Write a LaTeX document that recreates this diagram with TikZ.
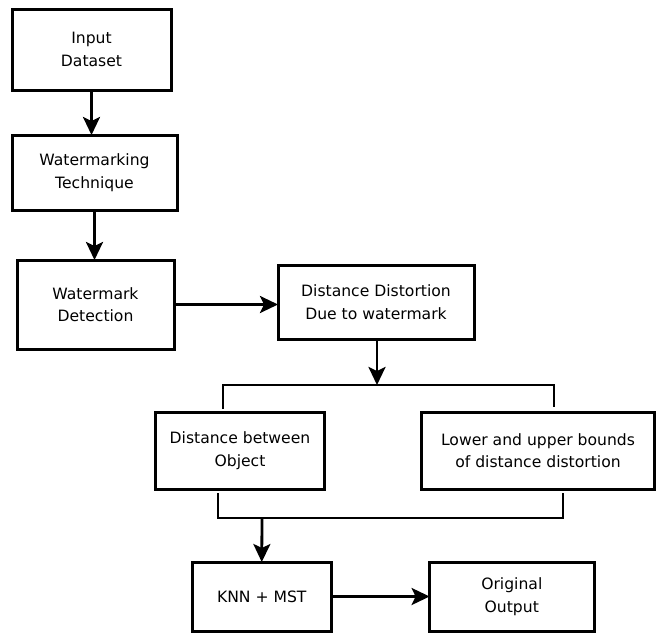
\documentclass[tikz,border=0pt]{standalone}
\usepackage{fontspec}
\setmainfont{DejaVu Sans}
\usetikzlibrary{arrows.meta}
\tikzset{
  flowbox/.style={draw=black, line width=3pt, inner sep=0pt, outer sep=0pt,
    align=center, font=\fontsize{15.6}{22.5}\selectfont, text=black},
  conn/.style={line width=2.8pt, draw=black},
  arr/.style={conn, -{Stealth[length=18pt,width=17pt,inset=4pt]}},
}
\begin{document}
\begin{tikzpicture}[x=1pt,y=-1pt]
\useasboundingbox (0,0) rectangle (657,633);
\fill[white] (0,0) rectangle (657,633);

\node[flowbox, minimum width=159pt, minimum height=81pt] (b1) at (91.5,49.5) {Input\\Dataset};
\node[flowbox, minimum width=165pt, minimum height=75pt] (b2) at (94.5,172.5) {Watermarking\\Technique};
\node[flowbox, minimum width=157pt, minimum height=89pt] (b3) at (95.5,304.5) {Watermark\\Detection};
\node[flowbox, minimum width=196pt, minimum height=74pt] (b4) at (376,302) {Distance Distortion\\Due to watermark};
\node[flowbox, minimum width=169pt, minimum height=77pt] (b5) at (240,450.5) {Distance between\\Object};
\node[flowbox, minimum width=233pt, minimum height=77pt] (b6) at (538,450.5) {Lower and upper bounds\\of distance distortion};
\node[flowbox, minimum width=138.5pt, minimum height=69pt] (b7) at (261.75,596.5) {KNN + MST};
\node[flowbox, minimum width=164.4pt, minimum height=69pt] (b8) at (511.8,596.5) {Original\\Output};

% split bracket coordinates
\coordinate (tm) at (377,385);
\coordinate (tl) at (223,385);
\coordinate (tr) at (554,385);
\coordinate (tlb) at (223,409);
\coordinate (trb) at (554,407);
\coordinate (bl) at (218,518);
\coordinate (br) at (563,518);
\coordinate (blt) at (218,493);
\coordinate (brt) at (563,493);
\coordinate (bm) at (262,518);

\draw[arr] (b1.south) -- (b1.south |- b2.north);
\draw[arr] (b2.south) -- (b2.south |- b3.north);
\draw[arr] (b3.east) -- (b3.east -| b4.west);
\draw[arr] (b4.south -| tm) -- (tm);
\draw[conn] (tlb) -- (tl) -- (tr) -- (trb);
\draw[conn] (blt) -- (bl) -- (br) -- (brt);
\draw[arr] (bm) -- (b7.north);
\draw[arr] (b7.east) -- (b7.east -| b8.west);
\end{tikzpicture}
\end{document}
